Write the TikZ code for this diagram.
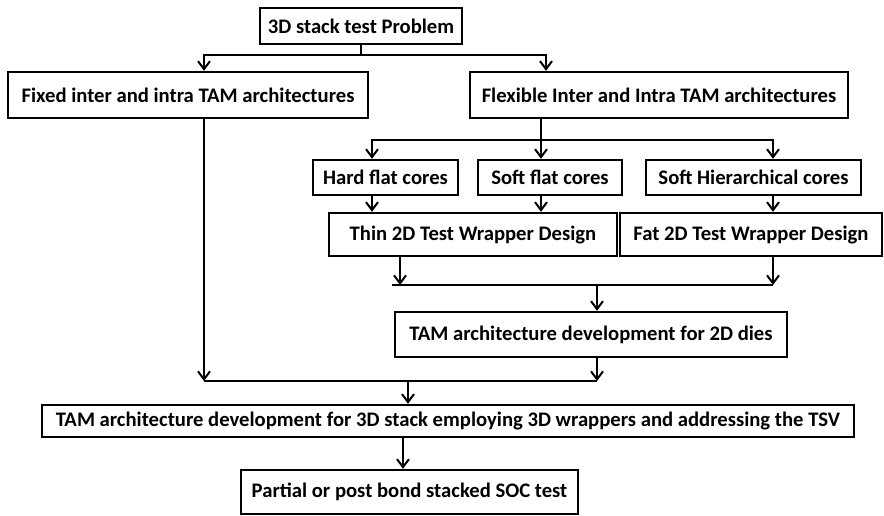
\documentclass[tikz,border=0pt]{standalone}
\usepackage{fontspec}
\setmainfont{Carlito}
\usetikzlibrary{arrows.meta}
\begin{document}
\begin{tikzpicture}[x=0.75pt,y=-0.75pt,
  box/.style 2 args={draw=black, line width=1.8pt, fill=white, inner sep=0pt,
    minimum width=#1*0.75pt, minimum height=#2*0.75pt,
    font=\fontsize{15.5}{18}\selectfont\bfseries},
  conn/.style={draw=black, line width=1.5pt},
  arr/.style={conn, -{Straight Barb[length=6pt,width=9pt,line width=1.5pt]}}]
\useasboundingbox (0,0) rectangle (884,515);

% boxes
\node[box={202}{36}] (top) at (361,26) {3D stack test Problem};
\node[box={360}{46}] (fixed) at (188,95) {Fixed inter and intra TAM architectures};
\node[box={378}{46}] (flex) at (659,95) {Flexible Inter and Intra TAM architectures};
\node[box={145}{35}] (hard) at (385.5,177.5) {Hard flat cores};
\node[box={144}{35}] (softflat) at (550,177.5) {Soft flat cores};
\node[box={215}{35}] (softh) at (753.5,177.5) {Soft Hierarchical cores};
\node[box={288}{43}] (thin) at (473,234.5) {Thin 2D Test Wrapper Design};
\node[box={262}{43}] (fat) at (751,234.5) {Fat 2D Test Wrapper Design};
\node[box={392}{45}] (tam2d) at (591,334.5) {TAM architecture development for 2D dies};
\node[box={812}{32}] (tam3d) at (448,421) {TAM architecture development for 3D stack employing 3D wrappers and addressing the TSV};
\node[box={337}{44}] (soc) at (409.5,492) {Partial or post bond stacked SOC test};

% vertical positions of the connectors
\coordinate (xL) at (204,0);
\coordinate (xR) at (546,0);
\coordinate (xF) at (541,0);
\coordinate (xA) at (372,0);
\coordinate (xC) at (773,0);
\coordinate (xT) at (400,0);
\coordinate (xM) at (597,0);
\coordinate (xB) at (408,0);
\coordinate (xD) at (403,0);

% junctions
\coordinate (j1) at (361,55);
\coordinate (j2) at (541,140);
\coordinate (j3l) at (392,285);
\coordinate (j3r) at (773,285);
\coordinate (j4l) at (204,381);
\coordinate (j4r) at (597,381);

% top split
\draw[conn] (top.south) -- (j1);
\draw[arr] (j1) -| (fixed.north -| xL);
\draw[arr] (j1) -| (flex.north -| xR);

% flexible branch
\draw[conn] (flex.south -| xF) -- (j2);
\draw[arr] (j2) -| (hard.north -| xA);
\draw[arr] (j2) -- (softflat.north -| xF);
\draw[arr] (j2) -| (softh.north -| xC);

\draw[arr] (hard.south -| xA) -- (thin.north -| xA);
\draw[arr] (softflat.south -| xF) -- (thin.north -| xF);
\draw[arr] (softh.south -| xC) -- (fat.north -| xC);

% wrapper merge
\draw[arr] (thin.south -| xT) -- (xT |- j3l);
\draw[arr] (fat.south -| xC) -- (j3r);
\draw[conn] (j3l) -- (j3r);
\draw[arr] (xM |- j3l) -- (tam2d.north -| xM);

% merge into 3D stack
\draw[arr] (fixed.south -| xL) -- (j4l);
\draw[arr] (tam2d.south -| xM) -- (j4r);
\draw[conn] (j4l) -- (j4r);
\draw[arr] (xB |- j4l) -- (tam3d.north -| xB);
\draw[arr] (tam3d.south -| xD) -- (soc.north -| xD);
\end{tikzpicture}
\end{document}
